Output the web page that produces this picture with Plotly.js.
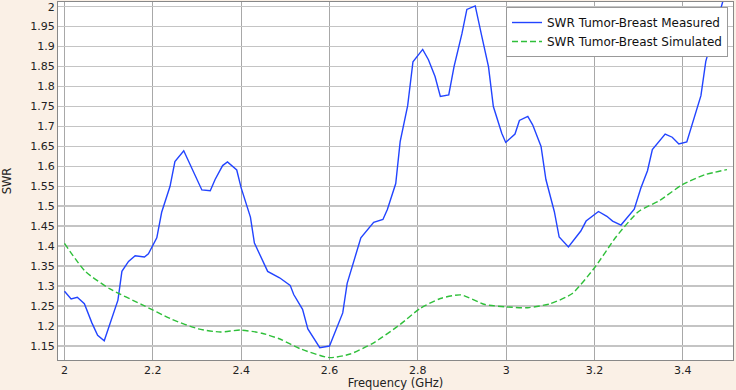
<!DOCTYPE html>
<html>
<head>
<meta charset="utf-8">
<script src="https://cdn.plot.ly/plotly-3.0.1.min.js"></script>
<style>html,body{margin:0;padding:0;background:#faf0e6;}#chart{width:736px;height:390px;}</style>
</head>
<body>
<div id="chart"></div>
<script>
const measuredFreq = [2.000,2.015,2.029,2.045,2.062,2.075,2.090,2.107,2.121,2.130,2.145,2.160,2.181,2.190,2.209,2.220,2.239,2.250,2.270,2.311,2.330,2.341,2.358,2.369,2.390,2.400,2.421,2.430,2.460,2.487,2.511,2.519,2.539,2.551,2.578,2.600,2.613,2.630,2.640,2.658,2.671,2.700,2.721,2.731,2.750,2.760,2.777,2.789,2.811,2.824,2.839,2.851,2.870,2.882,2.900,2.911,2.930,2.945,2.960,2.971,2.990,2.999,3.020,3.030,3.049,3.060,3.079,3.090,3.109,3.120,3.141,3.169,3.181,3.209,3.228,3.241,3.260,3.290,3.305,3.320,3.331,3.360,3.376,3.391,3.409,3.441,3.452,3.468,3.500];
const measuredSWR = [1.287,1.268,1.272,1.256,1.208,1.177,1.163,1.217,1.265,1.337,1.362,1.376,1.373,1.381,1.421,1.485,1.550,1.612,1.639,1.541,1.539,1.567,1.602,1.611,1.591,1.546,1.473,1.408,1.337,1.321,1.302,1.279,1.242,1.193,1.146,1.150,1.187,1.233,1.307,1.371,1.421,1.460,1.467,1.492,1.557,1.662,1.752,1.862,1.893,1.867,1.825,1.775,1.779,1.850,1.933,1.993,2.002,1.925,1.850,1.750,1.683,1.660,1.681,1.715,1.725,1.704,1.650,1.567,1.487,1.423,1.398,1.438,1.463,1.487,1.475,1.463,1.453,1.493,1.546,1.589,1.642,1.681,1.673,1.656,1.661,1.777,1.863,1.925,2.050];
const simulatedFreq = [2.000,2.047,2.103,2.175,2.243,2.303,2.353,2.398,2.447,2.489,2.534,2.600,2.647,2.700,2.760,2.805,2.851,2.898,2.952,3.000,3.049,3.100,3.149,3.200,3.250,3.300,3.348,3.400,3.450,3.500];
const simulatedSWR = [1.407,1.337,1.293,1.254,1.217,1.193,1.185,1.190,1.182,1.167,1.143,1.121,1.130,1.158,1.204,1.244,1.269,1.278,1.254,1.248,1.246,1.256,1.281,1.346,1.425,1.487,1.515,1.555,1.579,1.592];
const xTicks = [2,2.2,2.4,2.6,2.8,3,3.2,3.4];
const xTickText = ['2','2.2','2.4','2.6','2.8','3','3.2','3.4'];
const yTicks = [1.15,1.2,1.25,1.3,1.35,1.4,1.45,1.5,1.55,1.6,1.65,1.7,1.75,1.8,1.85,1.9,1.95,2];
const yTickText = ['1.15','1.2','1.25','1.3','1.35','1.4','1.45','1.5','1.55','1.6','1.65','1.7','1.75','1.8','1.85','1.9','1.95','2'];

const font = 'DejaVu Sans, sans-serif';
const traces = [
  {x: measuredFreq, y: measuredSWR, type:'scatter', mode:'lines', name:'SWR Tumor-Breast Measured',
   line:{color:'#2244ff', width:1.4}},
  {x: simulatedFreq, y: simulatedSWR, type:'scatter', mode:'lines', name:'SWR Tumor-Breast Simulated',
   line:{color:'#2fbf3a', width:1.4, dash:'6px,3px', shape:'spline', smoothing:0.6}}
];
const layout = {
  width:736, height:390,
  paper_bgcolor:'#faf0e6', plot_bgcolor:'#ffffff',
  margin:{l:57.5, r:3, t:2, b:29.5},
  font:{family:font, size:11, color:'#222'},
  showlegend:true,
  legend:{x:0.9926, y:0.986, xanchor:'right', yanchor:'top', bgcolor:'#ffffff',
          bordercolor:'#999999', borderwidth:1, font:{family:font, size:12, color:'#111'},
          tracegroupgap:0, itemwidth:30},
  xaxis:{range:[1.9853,3.5136], tickvals:xTicks, ticktext:xTickText, showgrid:true,
         gridcolor:'#a8a8a8', gridwidth:1, zeroline:false, showline:true, linecolor:'#888',
         linewidth:1, mirror:true, ticks:'', tickfont:{family:font, size:11, color:'#222'},
         title:{text:'Frequency (GHz)', font:{family:font, size:11.5, color:'#222'}, standoff:2},
         automargin:false},
  yaxis:{range:[1.115,2.0117], tickvals:yTicks, ticktext:yTickText, showgrid:true,
         gridcolor:'#c4c4c4', gridwidth:1.6, zeroline:false, showline:true, linecolor:'#888',
         linewidth:1, mirror:true, ticks:'', tickfont:{family:font, size:11, color:'#222'},
         title:{text:'SWR', font:{family:font, size:11.5, color:'#222'}, standoff:16},
         automargin:false}
};
Plotly.newPlot('chart', traces, layout, {displayModeBar:false, staticPlot:true});
</script>
</body>
</html>
